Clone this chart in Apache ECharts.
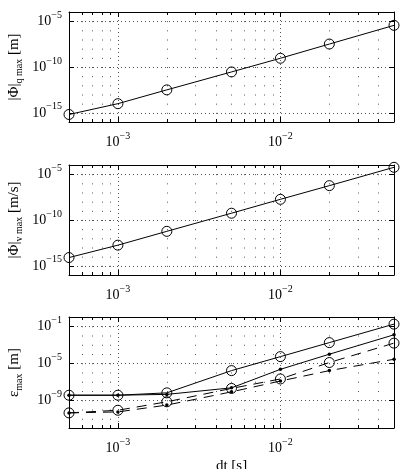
<!DOCTYPE html>
<html>
<head>
<meta charset="utf-8">
<script src="https://cdn.jsdelivr.net/npm/echarts@6/dist/echarts.min.js"></script>
<style>
html, body { margin: 0; padding: 0; background: #fff; }
#main { width: 401px; height: 469px; }
</style>
</head>
<body>
<div id="main"></div>
<script>
// dt [s]
const dt = [5e-4, 1e-3, 2e-3, 5e-3, 1e-2, 2e-2, 5e-2];
// x 主刻度 (10^n) 與 次刻度
const xMajor = [1e-3, 1e-2];
const xMinor = [6e-4, 7e-4, 8e-4, 9e-4, 2e-3, 3e-3, 4e-3, 5e-3, 6e-3, 7e-3, 8e-3, 9e-3, 2e-2, 3e-2, 4e-2];
const xRange = [5e-4, 5e-2];

// |Phi|_q max [m]
const phiQ = [6.6e-16, 1e-14, 3.2e-13, 2.9e-11, 9e-10, 3.2e-8, 3.5e-6];
// |Phi|_v max [m/s]
const phiV = [8e-15, 1.8e-13, 5.8e-12, 5.5e-10, 1.8e-8, 5.6e-7, 5.6e-5];
const phiTicks = [1e-15, 1e-10, 1e-5];
const phiRange = [1e-16, 1e-4];

// eps_max [m], 四條線
const epsA = [3.5e-9, 3.5e-9, 6.3e-9, 1.6e-6, 5.2e-5, 1.7e-3, 0.17];   // 實線 + 圓圈
const epsB = [3.5e-9, 3.5e-9, 4.3e-9, 2.2e-8, 2.2e-6, 9.5e-5, 1.2e-2]; // 實線 + 點
const epsC = [4.3e-11, 8.3e-11, 6.8e-10, 1.9e-8, 2e-7, 1.2e-5, 1.5e-3]; // 虛線 + 圓圈
const epsD = [4.3e-11, 5.5e-11, 3e-10, 8.1e-9, 1.2e-7, 1.6e-6, 2.7e-5]; // 虛線 + 點
const epsTicks = [1e-9, 1e-5, 1e-1];
const epsRange = [1e-12, 1];

const FONT = "Liberation Serif";
const lg = Math.log10;

const grids = [
  { left: 69, top: 12, width: 325, height: 110 },
  { left: 69, top: 165, width: 325, height: 110 },
  { left: 69, top: 317, width: 325, height: 111 }
];

const powRich = {
  b: { fontFamily: FONT, fontSize: 14, lineHeight: 22, color: "#000" },
  e: { fontFamily: FONT, fontSize: 10, lineHeight: 10, verticalAlign: "top", color: "#000" }
};
function powLabel(v) {
  return "{b|10}{e|" + String(Math.round(v)).replace("-", "\u2212") + "}";
}

const nameRich = {
  n: { fontFamily: FONT, fontSize: 15, lineHeight: 20, color: "#000" },
  s: { fontFamily: FONT, fontSize: 10, lineHeight: 10, verticalAlign: "bottom", color: "#000" }
};

const xAxes = [];
const yAxes = [];

function addAxes(p, yTicks, yRange, yName, xName) {
  const decadePx = grids[p].height / 12;
  const base = {
    gridIndex: p,
    type: "value",
    min: lg(xRange[0]),
    max: lg(xRange[1]),
    axisLine: { show: false, onZero: false },
    axisLabel: { show: false },
    splitLine: { show: false }
  };
  // 下方 主刻度
  xAxes.push(Object.assign({}, base, {
    position: "bottom",
    axisLine: { show: true, onZero: false, lineStyle: { color: "#000", width: 1 } },
    axisTick: { show: true, inside: true, length: 5, customValues: xMajor.map(lg), lineStyle: { color: "#000" } },
    axisLabel: { show: true, customValues: xMajor.map(lg), formatter: powLabel, rich: powRich, margin: 9 },
    splitLine: { show: true, lineStyle: { color: "#555", width: 1, type: [1, 3] } },
    name: xName || "",
    nameLocation: "middle",
    nameGap: 31,
    nameTextStyle: { fontFamily: FONT, fontSize: 15, color: "#000" }
  }));
  // 下方 次刻度
  xAxes.push(Object.assign({}, base, {
    position: "bottom",
    axisTick: { show: true, inside: true, length: 3, customValues: xMinor.map(lg), lineStyle: { color: "#000" } },
    splitLine: { show: true, lineStyle: { color: "#555", width: 1, type: [1, decadePx - 1] } }
  }));
  // 上方
  xAxes.push(Object.assign({}, base, {
    position: "top",
    axisLine: { show: true, onZero: false, lineStyle: { color: "#000", width: 1 } },
    axisTick: { show: true, inside: true, length: 5, customValues: xMajor.map(lg), lineStyle: { color: "#000" } }
  }));
  xAxes.push(Object.assign({}, base, {
    position: "top",
    axisTick: { show: true, inside: true, length: 3, customValues: xMinor.map(lg), lineStyle: { color: "#000" } }
  }));

  const yBase = {
    gridIndex: p,
    type: "value",
    min: lg(yRange[0]),
    max: lg(yRange[1]),
    axisLine: { show: true, onZero: false, lineStyle: { color: "#000", width: 1 } },
    axisTick: { show: true, inside: true, length: 5, customValues: yTicks.map(lg), lineStyle: { color: "#000" } },
    axisLabel: { show: false },
    splitLine: { show: false }
  };
  yAxes.push(Object.assign({}, yBase, {
    position: "left",
    axisLabel: { show: true, customValues: yTicks.map(lg), formatter: powLabel, rich: powRich, margin: 7 },
    splitLine: { show: true, lineStyle: { color: "#555", width: 1, type: [1, 3] } },
    name: yName,
    nameLocation: "middle",
    nameRotate: 90,
    nameGap: 45,
    nameMoveOverlap: false,
    nameTextStyle: { rich: nameRich }
  }));
  yAxes.push(Object.assign({}, yBase, { position: "right" }));
}

addAxes(0, phiTicks, phiRange, "{n||Φ|}{s|q max}{n| [m]}");
addAxes(1, phiTicks, phiRange, "{n||Φ|}{s|v max}{n| [m/s]}");
addAxes(2, epsTicks, epsRange, "{n|ε}{s|max}{n| [m]}", "dt [s]");

function line(p, vals, kind) {
  const circle = kind === "circle";
  return {
    type: "line",
    xAxisIndex: p * 4,
    yAxisIndex: p * 2,
    data: dt.map((x, i) => [lg(x), lg(vals[i])]),
    symbol: "circle",
    symbolSize: circle ? 10 : 3.5,
    showAllSymbol: true,
    lineStyle: { color: "#000", width: 1 },
    itemStyle: circle
      ? { color: "transparent", borderColor: "#000", borderWidth: 1 }
      : { color: "#000", borderWidth: 0 },
    emphasis: { disabled: true },
    silent: true,
    animation: false,
    z: 5
  };
}

const series = [
  line(0, phiQ, "circle"),
  line(1, phiV, "circle"),
  line(2, epsA, "circle"),
  line(2, epsB, "dot"),
  line(2, epsC, "circle"),
  line(2, epsD, "dot")
];
// 虛線
series[4].lineStyle.type = [10, 7];
series[5].lineStyle.type = [10, 7];

const chart = echarts.init(document.getElementById("main"), null, { renderer: "canvas" });
chart.setOption({
  backgroundColor: "#fff",
  animation: false,
  textStyle: { fontFamily: FONT },
  grid: grids.map(g => Object.assign({ outerBoundsMode: "none", containLabel: false }, g)),
  xAxis: xAxes,
  yAxis: yAxes,
  series: series
});
</script>
</body>
</html>
